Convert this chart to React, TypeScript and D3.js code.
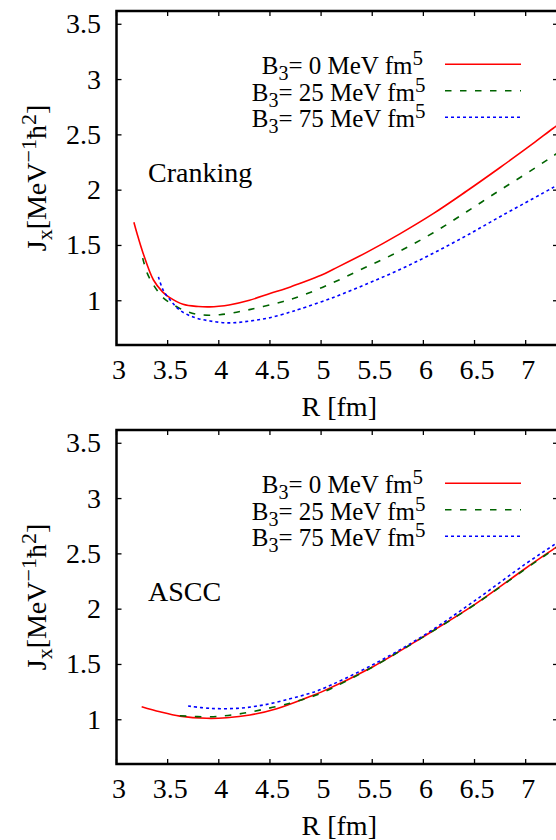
import React from "react";
import * as d3 from "d3";

// ---------- data ----------
const crankR0 = [3.17, 3.2, 3.26, 3.36, 3.45, 3.51, 3.65, 3.8, 3.91, 4.0, 4.1, 4.3, 4.5, 4.7, 4.79, 5.0, 5.12, 5.45, 5.77, 6.1, 6.42, 6.75, 7.07, 7.27, 7.4];
const crankJ0 = [1.71, 1.61, 1.43, 1.19, 1.08, 1.035, 0.968, 0.948, 0.945, 0.95, 0.962, 1.005, 1.065, 1.125, 1.156, 1.23, 1.285, 1.44, 1.605, 1.79, 1.99, 2.205, 2.42, 2.56, 2.645];

const crankR25 = [3.256, 3.3, 3.36, 3.46, 3.555, 3.686, 3.816, 4.01, 4.3, 4.63, 4.794, 5.12, 5.446, 5.771, 6.097, 6.423, 6.749, 7.074, 7.27, 7.4];
const crankJ25 = [1.386, 1.25, 1.145, 1.024, 0.964, 0.903, 0.874, 0.874, 0.92, 0.994, 1.04, 1.165, 1.307, 1.45, 1.615, 1.805, 2.0, 2.19, 2.31, 2.39];

const crankR75 = [3.41, 3.457, 3.54, 3.62, 3.75, 3.914, 4.11, 4.305, 4.5, 4.7, 4.794, 5.12, 5.446, 5.771, 6.097, 6.423, 6.749, 7.074, 7.27, 7.4];
const crankJ75 = [1.216, 1.095, 0.99, 0.914, 0.853, 0.817, 0.8, 0.817, 0.847, 0.898, 0.925, 1.03, 1.152, 1.283, 1.43, 1.59, 1.76, 1.925, 2.025, 2.09];

const asccR0 = [3.246, 3.425, 3.62, 3.88, 4.077, 4.305, 4.566, 4.89, 5.0, 5.507, 6.0, 6.507, 7.0, 7.29, 7.4];
const asccJ0 = [1.118, 1.072, 1.033, 1.013, 1.018, 1.043, 1.1, 1.21, 1.25, 1.48, 1.751, 2.045, 2.37, 2.555, 2.625];

const asccR25 = [3.62, 3.914, 4.175, 4.435, 4.696, 4.86, 5.0, 5.5, 6.0, 6.5, 7.0, 7.29, 7.4];
const asccJ25 = [1.036, 1.027, 1.049, 1.094, 1.15, 1.195, 1.24, 1.475, 1.75, 2.04, 2.365, 2.55, 2.62];

const asccR75 = [3.7, 3.914, 4.175, 4.435, 4.696, 4.875, 5.0, 5.5, 6.0, 6.5, 7.0, 7.29, 7.4];
const asccJ75 = [1.124, 1.103, 1.103, 1.133, 1.19, 1.235, 1.275, 1.495, 1.76, 2.075, 2.41, 2.59, 2.66];

const xTicks = [3, 3.5, 4, 4.5, 5, 5.5, 6, 6.5, 7];
const yTicks = [1, 1.5, 2, 2.5, 3, 3.5];
const legendB3 = ["0", "25", "75"];
const panelNames = ["Cranking", "ASCC"];

// ---------- layout ----------
const W = 556;
const H = 840;
const FONT = "'Liberation Serif', 'DejaVu Serif', serif";
const colors = ["#ff0000", "#006400", "#0000ff"];
const dashes = [null, "6.5,8.5", "3,3"];

type Series = { r: number[]; j: number[] };

function Panel({ top, name, series, idx }: { top: number; name: string; series: Series[]; idx: number }) {
  const left = 116.5;
  const right = 558;
  const plotTop = top;
  const plotBottom = top + 334;
  const x = d3.scaleLinear().domain([3, 7.316]).range([left, right]);
  const y = d3.scaleLinear().domain([0.6, 3.62]).range([plotBottom, plotTop]);
  const line = d3
    .line<[number, number]>()
    .x((d) => x(d[0]))
    .y((d) => y(d[1]))
    .curve(d3.curveCatmullRom.alpha(0.5));
  const clipId = `clip${idx}`;
  const tl = 5;
  const legendY0 = top + 53.3;
  const cy = (plotTop + plotBottom) / 2;
  return (
    <g>
      <defs>
        <clipPath id={clipId}>
          <rect x={left} y={plotTop} width={right - left} height={plotBottom - plotTop} />
        </clipPath>
      </defs>
      {/* ticks */}
      {xTicks.map((t) => (
        <g key={"x" + t}>
          <line x1={x(t)} x2={x(t)} y1={plotBottom} y2={plotBottom - tl} stroke="#000" strokeWidth={1.3} />
          <line x1={x(t)} x2={x(t)} y1={plotTop} y2={plotTop + tl} stroke="#000" strokeWidth={1.3} />
          <text x={x(t) + 2.5} y={plotBottom + 34.3} textAnchor="middle" fontFamily={FONT} fontSize={28}>
            {String(t)}
          </text>
        </g>
      ))}
      {yTicks.map((t) => (
        <g key={"y" + t}>
          <line x1={left} x2={left + tl} y1={y(t)} y2={y(t)} stroke="#000" strokeWidth={1.3} />
          <line x1={right} x2={right - tl} y1={y(t)} y2={y(t)} stroke="#000" strokeWidth={1.3} />
          <text x={101} y={y(t) + 9} textAnchor="end" fontFamily={FONT} fontSize={28}>
            {String(t)}
          </text>
        </g>
      ))}
      {/* curves */}
      <g clipPath={`url(#${clipId})`}>
        {series.map((s, i) => (
          <path
            key={i}
            d={line(s.r.map((r, k) => [r, s.j[k]] as [number, number])) || ""}
            fill="none"
            stroke={colors[i]}
            strokeWidth={1.6}
            strokeDasharray={dashes[i] || undefined}
          />
        ))}
      </g>
      {/* border */}
      <rect x={left} y={plotTop} width={right - left} height={plotBottom - plotTop} fill="none" stroke="#000" strokeWidth={2.5} />
      {/* legend */}
      {legendB3.map((b, i) => (
        <g key={"l" + i}>
          <text x={i === 0 ? 423 : 425.5} y={legendY0 + i * 26.5 + 10} textAnchor="end" fontFamily={FONT} fontSize={25}>
            B<tspan dy={6} fontSize={20}>3</tspan>
            <tspan dy={-6}>{`= ${b} MeV fm`}</tspan>
            <tspan dy={-9} fontSize={21}>5</tspan>
          </text>
          <line
            x1={445}
            x2={521}
            y1={legendY0 + i * 26.5}
            y2={legendY0 + i * 26.5}
            stroke={colors[i]}
            strokeWidth={1.6}
            strokeDasharray={dashes[i] || undefined}
          />
        </g>
      ))}
      {/* panel label */}
      <text x={148} y={top + 171} fontFamily={FONT} fontSize={28}>
        {name}
      </text>
      {/* axis labels */}
      <text x={(left + right) / 2 + 2} y={plotBottom + 70.5} textAnchor="middle" fontFamily={FONT} fontSize={28}>
        R [fm]
      </text>
      <text transform={`translate(46,${cy}) rotate(-90)`} textAnchor="middle" fontFamily={FONT} fontSize={28}>
        J<tspan dy={6} fontSize={22}>x</tspan>
        <tspan dy={-6}>[MeV</tspan>
        <tspan dy={-10} fontSize={22}>−1</tspan>
        <tspan dy={10}>ħ</tspan>
        <tspan dy={-10} fontSize={22}>2</tspan>
        <tspan dy={10}>]</tspan>
      </text>
    </g>
  );
}

export default function App() {
  const top: Series[] = [
    { r: crankR0, j: crankJ0 },
    { r: crankR25, j: crankJ25 },
    { r: crankR75, j: crankJ75 },
  ];
  const bottom: Series[] = [
    { r: asccR0, j: asccJ0 },
    { r: asccR25, j: asccJ25 },
    { r: asccR75, j: asccJ75 },
  ];
  return (
    <svg
      width={W}
      height={H}
      style={{ position: "absolute", left: 0, top: 0, background: "#fff" }}
    >
      <rect x={0} y={0} width={W} height={H} fill="#fff" />
      <Panel top={11} name={panelNames[0]} series={top} idx={0} />
      <Panel top={430} name={panelNames[1]} series={bottom} idx={1} />
    </svg>
  );
}
